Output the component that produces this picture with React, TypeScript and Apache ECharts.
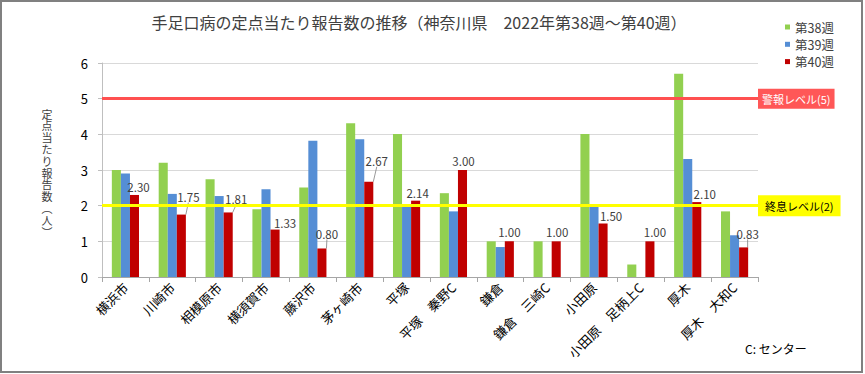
import React, { useEffect, useRef } from "react";
import * as echarts from "echarts";

const categories = [
  "横浜市", "川崎市", "相模原市", "横須賀市", "藤沢市", "茅ヶ崎市", "平塚",
  "平塚　秦野C", "鎌倉", "鎌倉　三崎C", "小田原", "小田原　足柄上C", "厚木", "厚木　大和C",
];
const week38 = [3.0, 3.2, 2.74, 1.9, 2.51, 4.31, 4.01, 2.35, 1.0, 1.0, 4.01, 0.35, 5.7, 1.84];
const week39 = [2.9, 2.33, 2.27, 2.46, 3.82, 3.86, 1.97, 1.84, 0.84, null, 1.97, null, 3.31, 1.17];
const week40 = [2.3, 1.75, 1.81, 1.33, 0.8, 2.67, 2.14, 3.0, 1.0, 1.0, 1.5, 1.0, 2.1, 0.83];
const seriesNames = ["第38週", "第39週", "第40週"];
const yTicks = [0, 1, 2, 3, 4, 5, 6];
const alarmLevel = 5;
const endLevel = 2;
const yAxisTitleChars = ["定", "点", "当", "た", "り", "報", "告", "数", "︵", "人", "︶"];

// label styling nudges (dx, dy) and which labels get a leader line
const labelNudge: [number, number][] = [
  [4, 0], [7, -10], [8, -6], [10, 1], [5, -7], [8, -13], [2, 0],
  [1, -1], [0, -2], [1, -2], [8, 0], [5, -2], [8, 0], [4, -6],
];
const leader = [false, true, true, false, true, true, false, false, false, false, false, false, false, true];

const FONT = "'Noto Sans CJK JP', 'Noto Sans', sans-serif";

export default function App() {
  const ref = useRef<HTMLDivElement>(null);
  useEffect(() => {
    if (!ref.current) return;
    const chart = echarts.init(ref.current, undefined, { renderer: "svg" });
    const option: any = {
      animation: false,
      textStyle: { fontFamily: FONT },
      grid: { left: 102, right: 107, top: 63, bottom: 97 },
      legend: {
        orient: "vertical",
        left: 780,
        top: 15,
        itemWidth: 5,
        itemHeight: 5,
        itemGap: 3.3,
        icon: "rect",
        data: seriesNames,
        textStyle: { fontSize: 12.5, color: "#404040", lineHeight: 14, fontFamily: FONT },
      },
      xAxis: {
        type: "category",
        data: categories,
        axisLine: { lineStyle: { color: "#a6a6a6" } },
        axisTick: { show: true, length: 5, lineStyle: { color: "#a6a6a6" } },
        axisLabel: { rotate: 45, fontSize: 13, color: "#000", margin: 8, interval: 0, fontFamily: FONT },
      },
      yAxis: {
        type: "value",
        min: yTicks[0],
        max: yTicks[yTicks.length - 1],
        interval: 1,
        axisLine: { show: true, lineStyle: { color: "#bfbfbf" } },
        axisTick: { show: true, length: 4, lineStyle: { color: "#bfbfbf" } },
        axisLabel: { fontSize: 13, color: "#000", margin: 14, fontFamily: FONT },
        splitLine: { lineStyle: { color: "#d9d9d9" } },
      },
      series: [
        {
          name: seriesNames[0],
          type: "bar",
          data: week38,
          barGap: "0%",
          barCategoryGap: "42%",
          itemStyle: { color: "#92D050" },
          markLine: {
            silent: true,
            symbol: "none",
            data: [
              {
                yAxis: alarmLevel,
                lineStyle: { color: "#FF5050", width: 3, type: "solid" },
                label: {
                  show: true,
                  position: "end",
                  distance: 0,
                  formatter: "警報レベル(5)",
                  color: "#fff",
                  backgroundColor: "#FF5757",
                  padding: [5, 4, 4, 4],
                  fontSize: 11,
                  fontFamily: FONT,
                },
              },
              {
                yAxis: endLevel,
                lineStyle: { color: "#FFFF00", width: 3, type: "solid" },
                label: {
                  show: true,
                  position: "end",
                  distance: 0,
                  formatter: "終息レベル(2)",
                  color: "#000",
                  backgroundColor: "#FFFF00",
                  padding: [5, 7, 5, 7],
                  fontSize: 11,
                  fontFamily: FONT,
                },
              },
            ],
          },
        },
        {
          name: seriesNames[1],
          type: "bar",
          data: week39,
          itemStyle: { color: "#558ED5" },
        },
        {
          name: seriesNames[2],
          type: "bar",
          data: week40.map((v, i) => ({ value: v, labelLine: { show: leader[i] } })),
          itemStyle: { color: "#C00000" },
          label: {
            show: true,
            position: "top",
            distance: 2,
            fontSize: 11.5,
            color: "#404040",
            fontFamily: FONT,
            formatter: (p: any) => Number(p.value).toFixed(2),
          },
          labelLine: { show: true, lineStyle: { color: "#7f7f7f", width: 0.8 } },
          labelLayout: (p: any) => {
            const n = labelNudge[p.dataIndex] || [0, 0];
            return { dx: n[0], dy: n[1] };
          },
        },
      ],
      graphic: [
        {
          type: "rect",
          shape: { x: 1, y: 1, width: 861, height: 371 },
          style: { fill: "none", stroke: "#808080", lineWidth: 2 },
          silent: true,
          z: 100,
        },
        {
          type: "text",
          x: 419,
          y: 22,
          style: {
            text: "手足口病の定点当たり報告数の推移（神奈川県　2022年第38週～第40週）",
            fontSize: 16,
            fill: "#404040",
            fontFamily: FONT,
            textAlign: "center",
            textVerticalAlign: "middle",
          },
        },
        ...yAxisTitleChars.map((ch, i) => ({
          type: "text",
          x: 47,
          y: 113.5 + i * 11.8,
          style: {
            text: ch,
            fontSize: 11,
            fill: "#404040",
            fontFamily: FONT,
            textAlign: "center",
            textVerticalAlign: "middle",
          },
        })),
        {
          type: "text",
          x: 745,
          y: 348,
          style: {
            text: "C: センター",
            fontSize: 12,
            fill: "#000",
            fontFamily: FONT,
            textAlign: "left",
            textVerticalAlign: "middle",
          },
        },
      ],
    };
    chart.setOption(option);
    return () => chart.dispose();
  }, []);
  return (
    <div
      ref={ref}
      style={{ position: "absolute", left: 0, top: 0, width: 865, height: 374, background: "#fff" }}
    />
  );
}
